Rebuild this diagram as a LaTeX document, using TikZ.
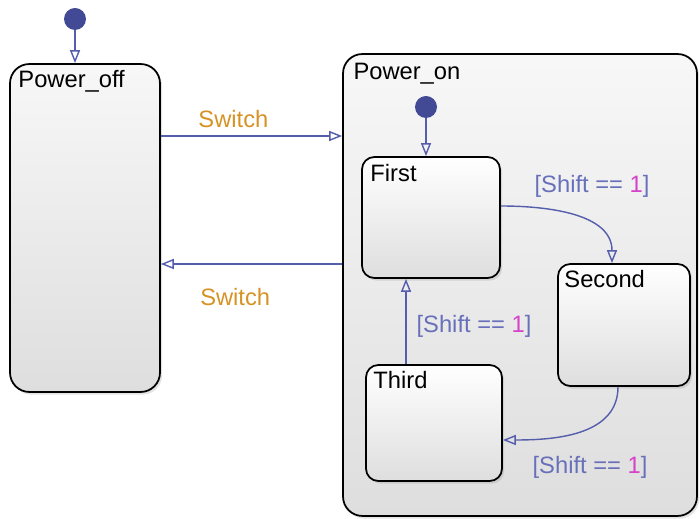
\documentclass[tikz,border=0pt]{standalone}
\usepackage{fontspec}
\setmainfont{Liberation Sans}
\usetikzlibrary{arrows.meta,positioning,shadows}
\definecolor{chartblue}{RGB}{84,94,172}
\definecolor{dotblue}{RGB}{66,74,150}
\definecolor{guardblue}{RGB}{104,112,186}
\definecolor{guardpink}{RGB}{214,66,200}
\definecolor{eventorange}{RGB}{214,146,36}
\definecolor{shadegrey}{RGB}{222,222,222}
\tikzset{
  chart/.style={draw=black,line width=1pt,rounded corners=8pt,top color=white,bottom color=shadegrey,
    drop shadow={shadow xshift=1.2pt,shadow yshift=-1.5pt,opacity=0.22}},
  superstate/.style={chart,rounded corners=11pt,top color=white!97!black},
  substate/.style={chart,rounded corners=7pt},
  title/.style={anchor=north west,inner sep=0pt,font=\fontsize{13.5}{16}\selectfont},
  entry/.style={circle,fill=dotblue,inner sep=0pt,minimum size=0.44cm},
  trans/.style={-{Triangle[open,length=2.6mm,width=2mm]},draw=chartblue,line width=0.8pt},
  event/.style={text=eventorange,font=\fontsize{13.5}{16}\selectfont},
  guardlbl/.style={text=guardblue,font=\fontsize{13.5}{16}\selectfont}
}
\newcommand{\ShiftGuard}{[Shift == \textcolor{guardpink}{1}]}

\begin{document}
\begin{tikzpicture}[x=0.02cm,y=-0.02cm]
  \useasboundingbox (0,0) rectangle (700,519);
  \node[superstate,minimum width=3.0cm,minimum height=6.56cm,
    label={[title,xshift=0.18cm,yshift=-0.14cm]north west:Power\_off}] (off) at (85,228) {};
  \node[superstate,minimum width=7.08cm,minimum height=9.24cm,
    label={[title,xshift=0.22cm,yshift=-0.2cm]north west:Power\_on}] (on) at (520,285) {};
  \node[substate,minimum width=2.76cm,minimum height=2.42cm,
    label={[title,xshift=0.18cm,yshift=-0.16cm]north west:First}] (first) at (431,217.5) {};
  \node[substate,minimum width=2.64cm,minimum height=2.44cm,
    label={[title,xshift=0.14cm,yshift=-0.14cm]north west:Second}] (second) at (624,325) {};
  \node[substate,minimum width=2.72cm,minimum height=2.32cm,
    label={[title,xshift=0.16cm,yshift=-0.14cm]north west:Third}] (third) at (434,423) {};
  \node[entry] (offdot) at (75,19) {};
  \node[entry] (ondot) at (426,107) {};
  \coordinate (upper) at (0,136);
  \coordinate (lower) at (0,264);

  \draw[trans] (offdot) -- (off.north -| offdot);
  \draw[trans] (ondot) -- (first.north -| ondot);
  \draw[trans] (off.east |- upper) -- node[event,above=1pt,pos=0.4]{Switch} (on.west |- upper);
  \draw[trans] (on.west |- lower) -- node[event,below=0.36cm,pos=0.59]{Switch} (off.east |- lower);
  \draw[trans] ([yshift=0.23cm]first.east) to[out=0,in=90] ([xshift=-0.24cm]second.north);
  \draw[trans] ([xshift=-0.12cm]second.south) to[out=-90,in=0] ([yshift=-0.34cm]third.east);
  \draw[trans] ([xshift=-0.56cm]third.north) coordinate (tup) -- (first.south -| tup);
  \node[guardlbl] (gfirst) at (592,186) {\ShiftGuard};
  \node[guardlbl] (gsecond) at (590,467) {\ShiftGuard};
  \node[guardlbl] (gthird) at (474,326) {\ShiftGuard};
\end{tikzpicture}
\end{document}
